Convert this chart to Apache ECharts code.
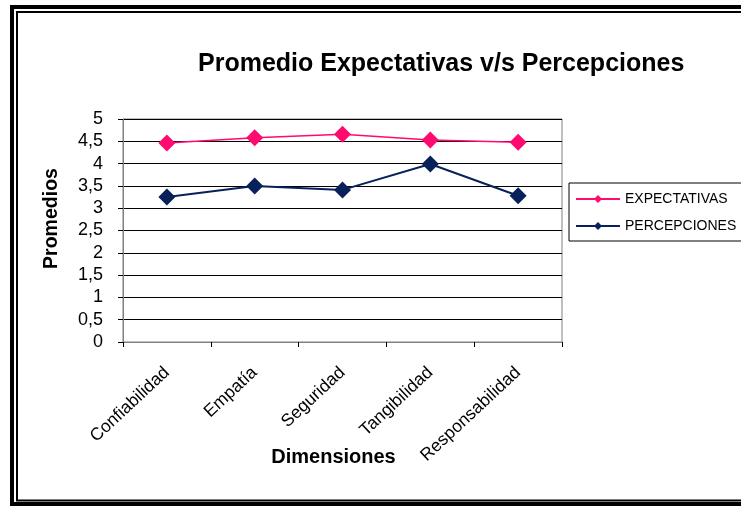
<!DOCTYPE html>
<html>
<head>
<meta charset="utf-8">
<script src="https://cdn.jsdelivr.net/npm/echarts@6/dist/echarts.min.js"></script>
<style>
  html, body { margin: 0; padding: 0; background: #fff; }
  #chart { width: 741px; height: 506px; }
</style>
</head>
<body>
<div id="chart"></div>
<script>
// datos
var dimensiones = ['Confiabilidad', 'Empatía', 'Seguridad', 'Tangibilidad', 'Responsabilidad'];
var expectativas = [4.46, 4.58, 4.66, 4.53, 4.48];
var percepciones = [3.25, 3.5, 3.41, 3.99, 3.28];

var font = 'Liberation Sans, Arial, sans-serif';
var myChart = echarts.init(document.getElementById('chart'));

myChart.setOption({
  backgroundColor: '#fff',
  animation: false,
  title: {
    text: 'Promedio Expectativas v/s Percepciones',
    left: 193,
    top: 47,
    textStyle: { fontFamily: font, fontSize: 25, fontWeight: 'bold', color: '#000' }
  },
  legend: {
    orient: 'vertical',
    left: 569,
    top: 183,
    borderColor: '#000',
    borderWidth: 1,
    padding: [9, 30, 8, 6],
    itemGap: 13,
    itemWidth: 44,
    itemHeight: 10,
    textStyle: { fontFamily: font, fontSize: 14, color: '#000' },
    data: ['EXPECTATIVAS', 'PERCEPCIONES']
  },
  grid: {
    left: 123, right: 179, top: 119, bottom: 164,
    show: true, borderColor: '#808080', borderWidth: 1
  },
  xAxis: {
    type: 'category',
    data: dimensiones,
    boundaryGap: true,
    name: 'Dimensiones',
    nameLocation: 'middle',
    nameGap: 105,
    nameMoveOverlap: false,
    nameTextStyle: { fontFamily: font, fontSize: 20, fontWeight: 'bold', color: '#000', padding: [0, 18, 0, 0] },
    axisLine: { lineStyle: { color: '#808080', width: 1 } },
    axisTick: { show: true, length: 5, lineStyle: { color: '#000' } },
    axisLabel: { rotate: 43, margin: 28, fontFamily: font, fontSize: 17.5, color: '#000' },
    splitLine: { show: false }
  },
  yAxis: {
    type: 'value',
    min: 0,
    max: 5,
    interval: 0.5,
    name: 'Promedios',
    nameLocation: 'middle',
    nameGap: 61,
    nameTextStyle: { fontFamily: font, fontSize: 19.5, fontWeight: 'bold', color: '#000', padding: [0, 0, 0, 24] },
    axisLine: { show: true, lineStyle: { color: '#808080', width: 1 } },
    axisTick: { show: true, length: 5, lineStyle: { color: '#000' } },
    axisLabel: {
      margin: 20, fontFamily: font, fontSize: 18, color: '#000',
      formatter: function (v) { return String(v).replace('.', ','); }
    },
    splitLine: { lineStyle: { color: '#000', width: 1 } }
  },
  series: [
    {
      name: 'EXPECTATIVAS',
      type: 'line',
      data: expectativas,
      symbol: 'diamond',
      symbolSize: 17,
      itemStyle: { color: '#ff0a6e' },
      lineStyle: { color: '#ff0a6e', width: 1.5 }
    },
    {
      name: 'PERCEPCIONES',
      type: 'line',
      data: percepciones,
      symbol: 'diamond',
      symbolSize: 17,
      itemStyle: { color: '#08215a' },
      lineStyle: { color: '#08215a', width: 2 }
    }
  ],
  graphic: [
    // marco doble
    { type: 'polyline', shape: { points: [[741, 7], [12, 7], [12, 504], [741, 504]] }, style: { stroke: '#000', lineWidth: 4, fill: null } },
    { type: 'polyline', shape: { points: [[741, 12], [17, 12], [17, 500.5], [741, 500.5]] }, style: { stroke: '#000', lineWidth: 2, fill: null } }
  ]
});
</script>
</body>
</html>
